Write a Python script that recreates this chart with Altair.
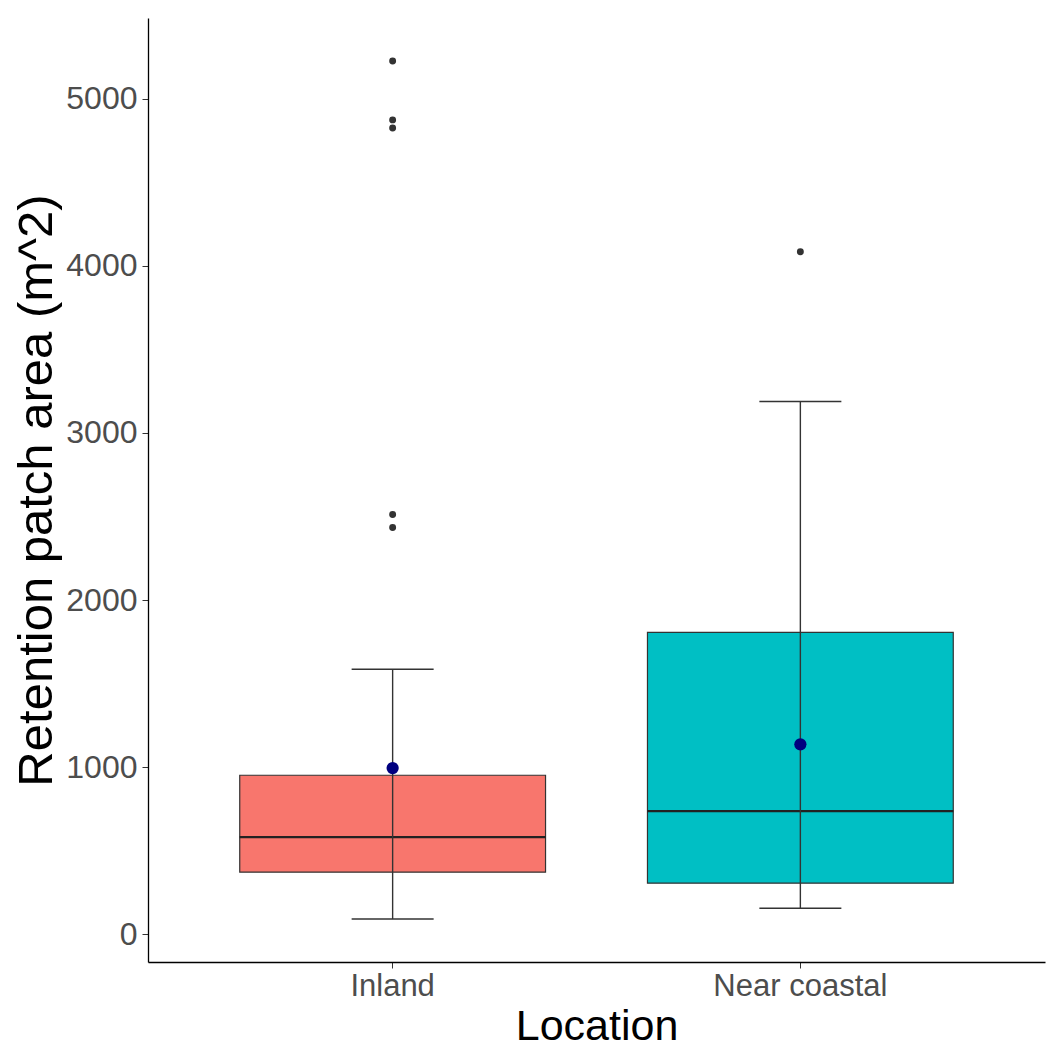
import altair as alt
import pandas as pd

locations = ["Inland", "Near coastal"]
box_colors = ["#F8766D", "#00BFC4"]
q1 = [371, 305]
medians = [580, 736]
q3 = [951, 1806]
whisker_low = [90, 155]
whisker_high = [1585, 3188]
means = [994, 1136]
outlier_location = ["Inland", "Inland", "Inland", "Inland", "Inland", "Near coastal"]
outlier_values = [5227, 4874, 4826, 2512, 2434, 4085]
y_ticks = [0, 1000, 2000, 3000, 4000, 5000]

stats = pd.DataFrame({
    "Location": locations,
    "q1": q1, "median": medians, "q3": q3,
    "lo": whisker_low, "hi": whisker_high, "mean": means,
})
outliers = pd.DataFrame({"Location": outlier_location, "value": outlier_values})

W, H = 897, 944
FONT = "Liberation Sans"

x = alt.X("Location:N", sort=locations,
          scale=alt.Scale(type="band", paddingInner=0, paddingOuter=0.1),
          axis=alt.Axis(title="Location", labelAngle=0, labelFontSize=31,
                        labelColor="#4D4D4D", titleFontSize=43, titleColor="#000000",
                        titleFontWeight="normal", tickColor="#333333", tickSize=6,
                        labelPadding=3, titlePadding=4, domainColor="#000000",
                        domainWidth=1.3, labelFont=FONT, titleFont=FONT))
yscale = alt.Scale(domain=[-167, 5484], nice=False, zero=False)
yaxis = alt.Axis(title="Retention patch area (m^2)", values=y_ticks, format="d",
                 grid=False, labelFontSize=32, labelColor="#4D4D4D", titleFontSize=49,
                 titleColor="#000000", titleFontWeight="normal", tickColor="#333333",
                 tickSize=6, labelPadding=5, titlePadding=4, domainColor="#000000",
                 domainWidth=1.3, labelFont=FONT, titleFont=FONT)

base = alt.Chart(stats)

box = base.mark_bar(width=alt.RelativeBandSize(0.75), stroke="#333333",
                    strokeWidth=1.2).encode(
    x=x,
    y=alt.Y("q1:Q", scale=yscale, axis=yaxis),
    y2="q3:Q",
    color=alt.Color("Location:N", scale=alt.Scale(domain=locations, range=box_colors),
                    legend=None),
)
median = base.mark_tick(size=306, thickness=2.2, color="#222222", opacity=1).encode(
    x=x, y=alt.Y("median:Q", scale=yscale))
whisker = base.mark_rule(color="#333333", strokeWidth=1.4).encode(
    x=x, y=alt.Y("lo:Q", scale=yscale), y2="hi:Q")
cap_lo = base.mark_tick(size=82, thickness=1.5, color="#333333", opacity=1).encode(
    x=x, y=alt.Y("lo:Q", scale=yscale))
cap_hi = base.mark_tick(size=82, thickness=1.5, color="#333333", opacity=1).encode(
    x=x, y=alt.Y("hi:Q", scale=yscale))
mean_pt = base.mark_point(filled=True, size=150, color="#00007F", opacity=1).encode(
    x=x, y=alt.Y("mean:Q", scale=yscale))
out_pt = alt.Chart(outliers).mark_point(filled=True, size=48, color="#333333",
                                         opacity=1).encode(
    x=x, y=alt.Y("value:Q", scale=yscale))

chart = alt.layer(box, median, whisker, cap_lo, cap_hi, mean_pt, out_pt).properties(
    width=W, height=H,
    padding={"left": 140, "top": 10, "right": 2, "bottom": 90},
    autosize=alt.AutoSizeParams(type="none"),
    background="#FFFFFF",
).configure_view(strokeWidth=0, stroke=None)

chart.save("out.html", embed_options={"renderer": "svg", "actions": False})
